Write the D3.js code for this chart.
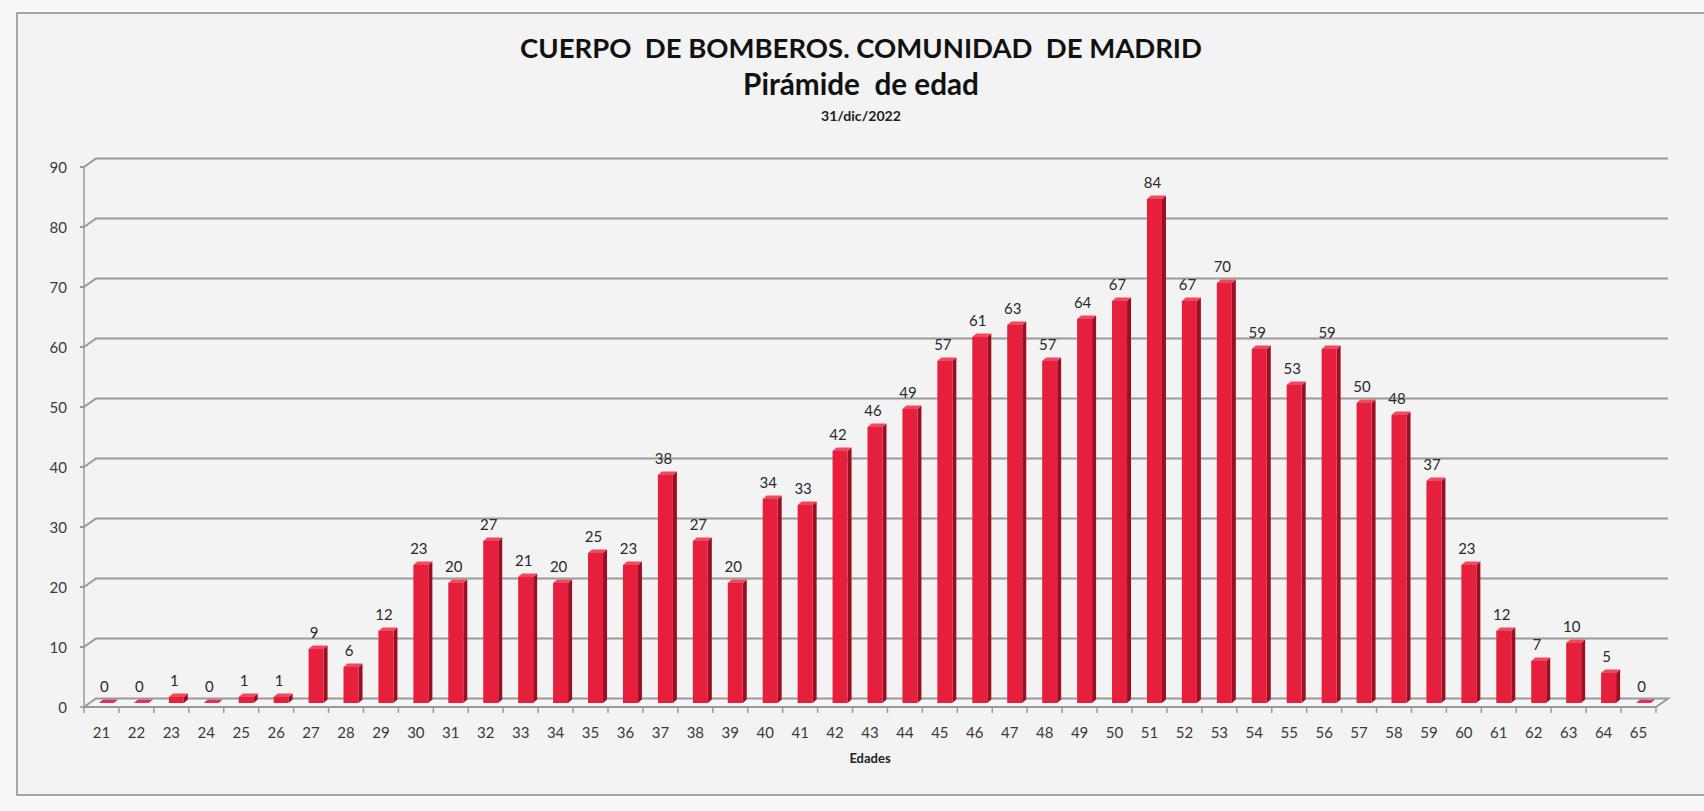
<!DOCTYPE html>
<html>
<head>
<meta charset="utf-8">
<script src="https://cdn.jsdelivr.net/npm/d3@7"></script>
<style>
html,body{margin:0;padding:0;background:#f8f8f8;}
svg{display:block;}
text{font-family:Lato,"Open Sans",sans-serif;}
</style>
</head>
<body>
<svg id="chart" width="1704" height="811"></svg>
<script>
const ages = ["21","22","23","24","25","26","27","28","29","30","31","32","33","34","35","36","37","38","39","40","41","42","43","44","45","46","47","48","49","50","51","52","53","54","55","56","57","58","59","60","61","62","63","64","65"];
const counts = [0,0,1,0,1,1,9,6,12,23,20,27,21,20,25,23,38,27,20,34,33,42,46,49,57,61,63,57,64,67,84,67,70,59,53,59,50,48,37,23,12,7,10,5,0];
const yTicks = [0,10,20,30,40,50,60,70,80,90];
const titleText = "CUERPO  DE BOMBEROS. COMUNIDAD  DE MADRID";
const subtitleText = "Pirámide  de edad";
const dateText = "31/dic/2022";
const xTitle = "Edades";

const svg = d3.select("#chart");
// frame
svg.append("rect").attr("x",17).attr("y",13).attr("width",1700).attr("height",782)
  .attr("fill","#f3f3f3").attr("stroke","#8a8a8a").attr("stroke-width",1.5);

const x0 = 84, x1 = 1656, yBase = 707, yTop = 167;
const DX = 12, DY = -8.5; // floor depth
const x = d3.scaleBand().domain(ages).range([x0,x1]).paddingInner(0).paddingOuter(0);
const y = d3.scaleLinear().domain([0,90]).range([yBase,yTop]);

const g = svg.append("g");

// back wall gridlines with diagonal joints
yTicks.forEach(t=>{
  if(t===0) return;
  const yy = y(t);
  g.append("path").attr("d",`M${x0-4},${yy} L${x0},${yy} L${x0+DX},${yy+DY} L${x1+DX},${yy+DY}`)
   .attr("fill","none").attr("stroke","#9a9a9a").attr("stroke-width",2);
});
// floor
g.append("path").attr("d",`M${x0},${yBase} L${x1},${yBase} L${x1+DX},${yBase+DY} L${x0+DX},${yBase+DY} Z`)
  .attr("fill","#f5f5f5").attr("stroke","#9a9a9a").attr("stroke-width",2);
g.append("path").attr("d",`M${x0-4},${yBase} L${x0},${yBase}`).attr("stroke","#9a9a9a").attr("stroke-width",1.5);
// y axis line
g.append("line").attr("x1",x0).attr("x2",x0).attr("y1",yTop).attr("y2",yBase)
  .attr("stroke","#9a9a9a").attr("stroke-width",1.5);

// y axis labels
const yAxis = d3.axisLeft(y).tickValues(yTicks).tickSize(0).tickPadding(0);
const ya = svg.append("g").attr("transform",`translate(${x0-17},0)`).call(yAxis);
ya.select(".domain").remove();
ya.selectAll("text").attr("font-size",15).attr("fill","#3a3a3a").attr("dy","0.35em")
  .style("font-family","Lato,'Open Sans',sans-serif");

// x axis boundary ticks
const bounds = ages.map(a=>x(a)).concat([x1]);
g.selectAll(".xt").data(bounds).enter().append("line")
  .attr("x1",d=>d).attr("x2",d=>d).attr("y1",yBase).attr("y2",yBase+6)
  .attr("stroke","#9a9a9a").attr("stroke-width",1.5);

// x labels
const xAxis = d3.axisBottom(x).tickSize(0).tickPadding(0);
const xa = svg.append("g").attr("transform",`translate(0,${yBase+26})`).call(xAxis);
xa.select(".domain").remove();
xa.selectAll("text").attr("font-size",15).attr("fill","#3a3a3a").attr("dy","0.35em")
  .style("font-family","Lato,'Open Sans',sans-serif");

// bars (3D)
const bw = 15, bOffX = 5, bOffY = -4, bdx = 4, bdy = -3.5;
const bars = g.selectAll(".bar").data(ages.map((a,i)=>({a, v:counts[i]}))).enter().append("g");
bars.each(function(d){
  const sel = d3.select(this);
  const cx = x(d.a) + x.bandwidth()/2;
  const left = cx - bw/2 + bOffX;
  const right = left + bw;
  const bot = y(0) + bOffY;
  const top = y(d.v) + bOffY;
  // side
  sel.append("path").attr("d",`M${right},${bot} L${right+bdx},${bot+bdy} L${right+bdx},${top+bdy} L${right},${top} Z`)
    .attr("fill","#9c0f22");
  // front
  sel.append("rect").attr("x",left).attr("y",top).attr("width",bw).attr("height",Math.max(0,bot-top))
    .attr("fill","#e61f3d");
  // top
  sel.append("path").attr("d",`M${left},${top} L${right},${top} L${right+bdx},${top+bdy} L${left+bdx},${top+bdy} Z`)
    .attr("fill", d.v===0 ? "#d8365a" : "#f0485f");
  // label
  sel.append("text").attr("x",cx+3).attr("y",top-11).attr("text-anchor","middle")
    .attr("font-size",15).attr("fill","#2a2a2a").text(d.v);
});

// titles
function fitText(t, targetW){
  const w = t.node().getComputedTextLength();
  const fs = parseFloat(t.attr("font-size"));
  t.attr("font-size", fs*targetW/w);
}
const cxT = 861;
const t1 = svg.append("text").attr("x",cxT).attr("y",58).attr("text-anchor","middle")
  .attr("font-weight","bold").attr("font-size",26).attr("fill","#111").style("white-space","pre").text(titleText);
fitText(t1, 682);
const t2 = svg.append("text").attr("x",cxT).attr("y",95).attr("text-anchor","middle")
  .attr("font-weight","bold").attr("font-size",24).attr("fill","#111").style("white-space","pre").text(subtitleText);
fitText(t2, 236);
const t3 = svg.append("text").attr("x",cxT).attr("y",121).attr("text-anchor","middle")
  .attr("font-weight","bold").attr("font-size",12).attr("fill","#222").text(dateText);
fitText(t3, 80);
svg.append("text").attr("x",(x0+x1)/2).attr("y",763).attr("text-anchor","middle")
  .attr("font-weight","bold").attr("font-size",13).attr("fill","#222").text(xTitle);
</script>
</body>
</html>
